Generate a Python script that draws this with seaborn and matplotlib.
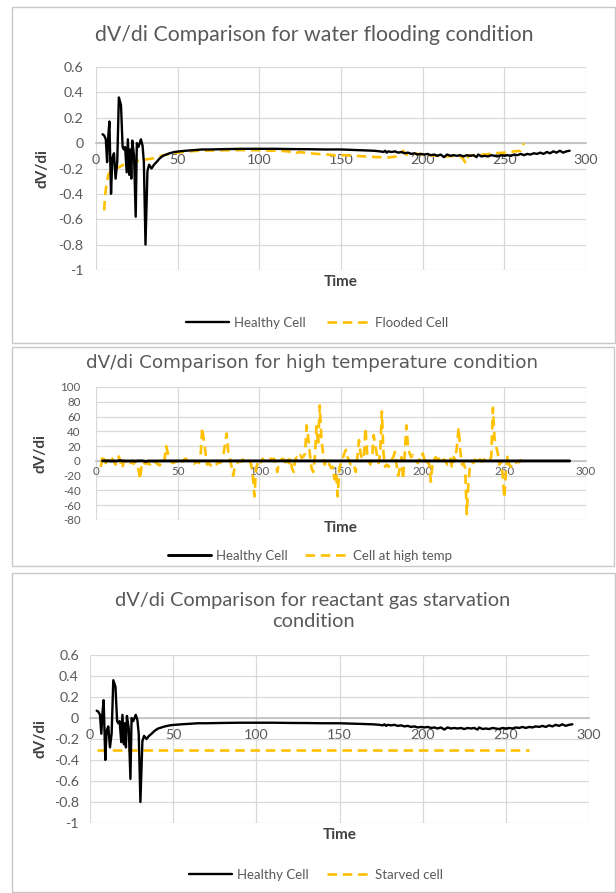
import matplotlib
matplotlib.use("Agg")
import matplotlib.pyplot as plt
import seaborn as sns
from matplotlib.patches import Rectangle

# ---------------- data ----------------
healthy_x = [4, 5, 6, 6.8, 7.5, 8.2, 9.2, 10, 11, 12, 13, 14, 15.3, 16.3, 17, 17.8, 18.8,
             19.5, 20.4, 21, 21.6, 22.2, 23.3, 24.3, 25, 26, 27.5, 28.5, 29.3, 30.3, 31.5,
             32.5, 34, 35.5, 37, 39, 41, 43, 45, 48, 51, 55, 60, 65, 70, 80, 90, 100, 110,
             120, 130, 140, 150, 160, 170,
             174, 176, 177, 178, 179, 181, 183, 185, 187, 189, 191, 193, 195, 197, 199, 201,
             203, 205, 207, 209, 211, 213, 215, 217, 219, 221, 223, 225, 227, 229, 231, 233,
             234, 236, 238, 240, 242, 244, 246, 248, 250, 252, 254, 256, 258, 260, 262, 264,
             266, 268, 270, 272, 274, 276, 278, 280, 282, 284, 286, 288, 290]
healthy_y = [0.07, 0.06, 0.03, -0.15, 0.05, 0.17, -0.40, -0.12, -0.08, -0.28, -0.15, 0.36, 0.30,
             -0.03, -0.05, -0.03, -0.23, 0.03, -0.25, -0.05, -0.28, 0.02, -0.10, -0.58, 0.0,
             -0.03, 0.03, -0.02, -0.15, -0.80, -0.22, -0.17, -0.20, -0.17, -0.15, -0.12, -0.10,
             -0.09, -0.08, -0.07, -0.065, -0.06, -0.055, -0.05, -0.05, -0.047, -0.045, -0.045,
             -0.045, -0.047, -0.048, -0.05, -0.05, -0.055, -0.06,
             -0.065, -0.07, -0.06, -0.075, -0.065, -0.07, -0.065, -0.075, -0.07, -0.08, -0.075,
             -0.085, -0.08, -0.09, -0.085, -0.09, -0.085, -0.095, -0.09, -0.1, -0.09, -0.11,
             -0.09, -0.1, -0.095, -0.1, -0.095, -0.105, -0.095, -0.1, -0.095, -0.11, -0.09,
             -0.105, -0.1, -0.105, -0.095, -0.1, -0.105, -0.095, -0.1, -0.095, -0.1, -0.09,
             -0.095, -0.085, -0.095, -0.085, -0.09, -0.08, -0.085, -0.075, -0.085, -0.07, -0.08,
             -0.065, -0.075, -0.06, -0.075, -0.065, -0.06]

flooded_x = [5, 5.5, 6.5, 7.5, 9, 11, 14, 17, 20, 25, 30, 35, 40, 45, 50, 55, 60, 70, 80, 90,
             100, 110, 118, 122, 124, 128, 135, 142, 148, 152, 158, 165, 172, 178, 184, 188,
             190, 193, 198, 203, 208, 214, 220, 224, 226.5, 228, 232, 238, 244, 250, 256, 260,
             262]
flooded_y = [-0.53, -0.42, -0.32, -0.25, -0.22, -0.2, -0.19, -0.17, -0.16, -0.14, -0.13, -0.12,
             -0.1, -0.085, -0.075, -0.068, -0.062, -0.058, -0.056, -0.055, -0.056, -0.06, -0.065,
             -0.085, -0.07, -0.075, -0.085, -0.09, -0.1, -0.095, -0.1, -0.105, -0.11, -0.115,
             -0.105, -0.06, -0.09, -0.085, -0.085, -0.095, -0.1, -0.105, -0.1, -0.11, -0.16,
             -0.1, -0.095, -0.09, -0.08, -0.075, -0.065, -0.06, 0.0]

hightemp_x = list(range(3, 263))
hightemp_y = [
    -8, 8, 2, -3, 1, 0, -2, 3, -1, -5, 2, 6, -2, -10, -1, 0, -2, 1, -3, -2,        # 3-22
    -4, 0, -6, -12, -25, -3, -5, -2, -4, -3, -5, 0, -2, -1, -3, -5, -6, -2, -4, 3,  # 23-42
    20, 10, 2, -1, -3, -2, 0, -2, 1, 0, -1, 2, 3, 0, -1, -2, -3, -4, -2, -1,        # 43-62
    -3, 5, 45, 28, 12, -5, -3, -6, -5, -8, -6, -4, -2, -3, 0, 8, 22, 37, 12, 3,     # 63-82
    -8, -20, -8, -3, -2, 0, -1, 2, 1, 3, 2, 0, -5, -20, -48, -10, -3, 2, -2, 3,     # 83-102
    0, -1, 2, 1, 3, 2, 3, -4, -15, -2, 0, 3, 2, -2, 5, -3, 4, -10, -15, 2,          # 103-122
    5, 3, 8, 4, 6, 10, 48, 30, 8, -10, -15, 5, 47, 20, 75, 30, 10, -5, 2, -3,       # 123-142
    -5, -10, -8, -25, -15, -48, -10, -2, 3, 10, 15, 5, 0, -5, -3, -6, -15, 5, 28, 10,  # 143-162
    2, 5, 45, 10, 0, -5, 3, 35, 20, 8, -3, 10, 67, 10, -8, -5, -8, -5, 2, 5,        # 163-182
    12, -5, -20, -10, 5, -25, 8, 48, 20, 10, 5, 8, 3, 0, -3, 2, 0, 10, 3, -5,       # 183-202
    0, -5, -28, -5, 2, 5, 1, 3, -3, 0, 2, 0, -5, -2, 3, -10, 5, 2, 20, 45,          # 203-222
    15, -5, -3, -10, -72, -30, -5, 0, -3, 2, -3, 0, 2, -1, 1, 2, 3, 0, 2, 5,        # 223-242
    72, 30, 20, 10, -5, 0, -20, -50, -15, 8, -5, -8, -3, -5, -3, 0, -2, 1, 0, 2]    # 243-262

starved_x = [4, 264]
starved_y = [-0.3, -0.3]

x_ticks = [0, 50, 100, 150, 200, 250, 300]
y_ticks_small = [0.6, 0.4, 0.2, 0, -0.2, -0.4, -0.6, -0.8, -1]
y_ticks_temp = [100, 80, 60, 40, 20, 0, -20, -40, -60, -80]

titles = ["dV/di Comparison for water flooding condition",
          "dV/di Comparison for high temperature condition",
          "dV/di Comparison for reactant gas starvation\ncondition"]
second_labels = ["Flooded Cell", "Cell at high temp", "Starved cell"]

# ---------------- style ----------------
sns.set_theme(style="white")
plt.rcParams['font.family'] = ['Lato', 'DejaVu Sans']

GOLD = "#FFC000"
TXT = "#595959"
GRID = "#d9d9d9"
W, H = 616, 893

fig = plt.figure(figsize=(W / 100, H / 100), dpi=100)
fig.patch.set_facecolor("white")

def fx(px):
    return px / W

def fy(py):
    return 1 - py / H

# panel frames
for (x0, y0, x1, y1) in [(12, 7, 615, 343), (12, 347, 614, 566), (12, 573, 615, 892)]:
    fig.patches.append(Rectangle((fx(x0), fy(y1)), fx(x1) - fx(x0), fy(y0) - fy(y1),
                                 transform=fig.transFigure, fill=False,
                                 edgecolor="#c8c8c8", lw=1.0, zorder=0))

panels = [
    dict(box=(96, 67, 586, 270), ylim=(-1, 0.6), yt=y_ticks_small,
         sx=flooded_x, sy=flooded_y, tfs=15.3, tfam=['Lato', 'DejaVu Sans'], ty=35, tx=314,
         xl_y=282, ylx=43, lg_y=323, lg_x=317, tickfs=10.3, pady=9, padx=8, hlw=1.7,
         cs=1.6),
    dict(box=(96, 387, 586, 520), ylim=(-80, 100), yt=y_ticks_temp,
         sx=hightemp_x, sy=hightemp_y, tfs=13.2, tfam=['DejaVu Sans'], ty=363, tx=312,
         xl_y=528, ylx=41, lg_y=556, lg_x=310, tickfs=8.3, pady=11, padx=4, hlw=2.1,
         cs=1.3),
    dict(box=(90, 655, 589, 823), ylim=(-1, 0.6), yt=y_ticks_small,
         sx=starved_x, sy=starved_y, tfs=14.4, tfam=['Lato', 'DejaVu Sans'], ty=611, tx=313,
         xl_y=835, ylx=41, lg_y=875, lg_x=316, tickfs=10.3, pady=8, padx=8, hlw=1.7,
         cs=1.4),
]

for i, p in enumerate(panels):
    x0, y0, x1, y1 = p["box"]
    ax = fig.add_axes([fx(x0), fy(y1), fx(x1) - fx(x0), fy(y0) - fy(y1)])
    ax.set_facecolor("white")
    sns.lineplot(x=healthy_x, y=healthy_y, ax=ax, color="black", lw=p["hlw"],
                 label="Healthy Cell", errorbar=None, zorder=4)
    sns.lineplot(x=p["sx"], y=p["sy"], ax=ax, color=GOLD, lw=1.9,
                 linestyle=(0, (3.6, 2.2)), label=second_labels[i], errorbar=None, zorder=3)
    ax.set_xlim(0, 300)
    ax.set_ylim(*p["ylim"])
    ax.set_xticks(x_ticks)
    ax.set_yticks(p["yt"])
    ax.set_yticklabels([f"{v:g}" for v in p["yt"]])
    ax.grid(True, color=GRID, lw=0.9)
    for s in ["top", "right", "left"]:
        ax.spines[s].set_visible(False)
    ax.spines["bottom"].set_position(("data", 0))
    ax.spines["bottom"].set_color("#bfbfbf")
    ax.spines["bottom"].set_linewidth(1.2)
    ax.spines["bottom"].set_zorder(2)
    ax.tick_params(axis="both", length=0, colors=TXT, labelsize=p["tickfs"])
    ax.tick_params(axis="y", pad=p["pady"])
    ax.tick_params(axis="x", pad=p["padx"])
    ax.set_xlabel("")
    ax.set_ylabel("")
    # titles / labels
    fig.text(fx(p["tx"]), fy(p["ty"]), titles[i], ha="center", va="center",
             fontsize=p["tfs"], color=TXT, linespacing=1.3, family=p["tfam"])
    fig.text(fx((x0 + x1) / 2), fy(p["xl_y"]), "Time", ha="center", va="center",
             fontsize=11, fontweight="bold", color="#404040")
    fig.text(fx(p["ylx"]), fy((y0 + y1) / 2), "dV/di", ha="center", va="center",
             rotation=90, fontsize=11, fontweight="bold", color="#404040")
    ax.legend(loc="center", bbox_to_anchor=(fx(p["lg_x"]), fy(p["lg_y"])),
              bbox_transform=fig.transFigure, ncol=2, frameon=False, fontsize=9.5,
              handlelength=3.3, columnspacing=p["cs"], handletextpad=0.35, labelcolor=TXT)

fig.savefig("out.png", dpi=100)
